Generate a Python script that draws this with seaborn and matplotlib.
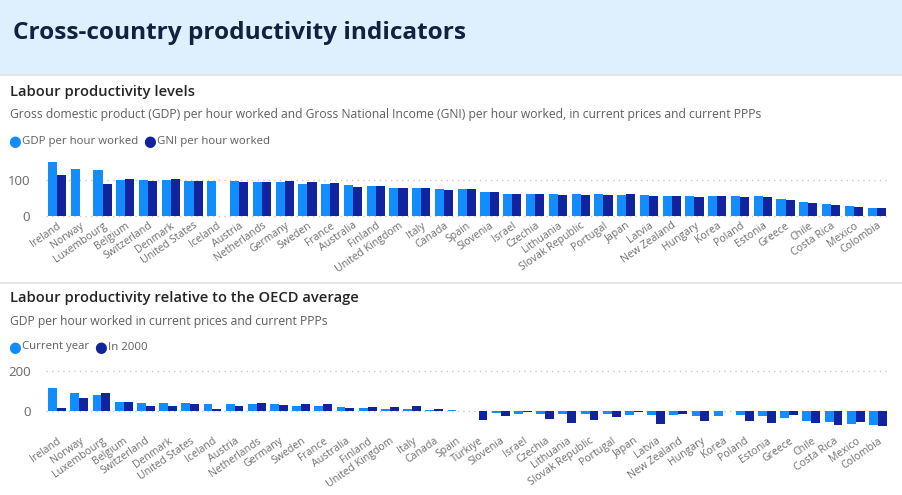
import numpy as np
import pandas as pd
import matplotlib
matplotlib.use("Agg")
import matplotlib.pyplot as plt
from matplotlib import font_manager
from matplotlib.lines import Line2D
from matplotlib.patches import Rectangle
import seaborn as sns

# %%
# data
countries_lvl = ["Ireland", "Norway", "Luxembourg", "Belgium", "Switzerland", "Denmark",
                 "United States", "Iceland", "Austria", "Netherlands", "Germany", "Sweden",
                 "France", "Australia", "Finland", "United Kingdom", "Italy", "Canada",
                 "Spain", "Slovenia", "Israel", "Czechia", "Lithuania", "Slovak Republic",
                 "Portugal", "Japan", "Latvia", "New Zealand", "Hungary", "Korea", "Poland",
                 "Estonia", "Greece", "Chile", "Costa Rica", "Mexico", "Colombia"]
gdp_hour = [150, 133, 128, 102, 100, 100, 99, 97, 97, 96, 95, 91, 90, 86, 84, 79, 79, 75,
            75, 67, 63, 63, 63, 62, 61, 58, 58, 57, 56, 56, 55, 55, 47, 38, 33, 27, 23]
gni_hour = [115, np.nan, 89, 103, 97, 103, 98, np.nan, 96, 95, 99, 96, 92, 82, 85, 79, 78, 74,
            75, 66, 62, 61, 60, 60, 59, 61, 55, 55, 54, 57, 53, 53, 45, 36, 31, 26, 22]

countries_rel = ["Ireland", "Norway", "Luxembourg", "Belgium", "Switzerland", "Denmark",
                 "United States", "Iceland", "Austria", "Netherlands", "Germany", "Sweden",
                 "France", "Australia", "Finland", "United Kingdom", "Italy", "Canada",
                 "Spain", "Türkiye", "Slovenia", "Israel", "Czechia", "Lithuania",
                 "Slovak Republic", "Portugal", "Japan", "Latvia", "New Zealand", "Hungary",
                 "Korea", "Poland", "Estonia", "Greece", "Chile", "Costa Rica", "Mexico",
                 "Colombia"]
rel_current = [113, 88, 80, 43, 40, 40, 38, 35, 35, 33, 33, 27, 25, 18, 17, 10, 10, 5,
               3, 0, -8, -15, -13, -13, -15, -15, -20, -22, -22, -25, -23, -22, -25, -37,
               -48, -55, -63, -72]
rel_2000 = [13, 65, 90, 45, 27, 25, 35, 8, 23, 40, 28, 35, 33, 13, 20, 22, 23, 10,
            -2, -45, -25, -3, -40, -58, -45, -28, -5, -65, -15, -50, 0, -50, -60, -22,
            -60, -70, -55, -77]

light = "#118DFF"
dark = "#12239E"

lvl = pd.DataFrame({"country": countries_lvl * 2,
                    "value": gdp_hour + gni_hour,
                    "series": ["GDP per hour worked"] * 37 + ["GNI per hour worked"] * 37})
rel = pd.DataFrame({"country": countries_rel * 2,
                    "value": rel_current + rel_2000,
                    "series": ["Current year"] * 38 + ["In 2000"] * 38})

# %%
# pick a family that really has a bold face installed
bold_family = "DejaVu Sans"
for fam in ["Open Sans", "Noto Sans", "Lato", "Roboto", "Inter", "Liberation Sans"]:
    weights = [f.weight for f in font_manager.fontManager.ttflist if f.name == fam]
    if any((w if isinstance(w, int) else font_manager.weight_dict.get(w, 400)) >= 600
           for w in weights):
        bold_family = fam
        break

sns.set_theme(style="white")
plt.rcParams["font.family"] = [bold_family, "DejaVu Sans"]

W, H = 903, 495
fig = plt.figure(figsize=(W / 100, H / 100), dpi=100)

def fy(px):
    return 1 - px / H

# header band
fig.add_artist(Rectangle((0, fy(74)), 1, 74 / H, transform=fig.transFigure,
                         color="#DEEFFD", zorder=0))
fig.text(13 / W, fy(33), "Cross-country productivity indicators", fontsize=17.6,
         fontweight="bold", color="#13203F", va="center")
for y in (75, 283):
    fig.add_artist(Line2D([0, 1], [fy(y), fy(y)], color="#E1E1E1", lw=1.2))

def panel(ax, df, order, hue_names, title, sub, top, ylim, ticks):
    sns.barplot(data=df, x="country", y="value", hue="series", order=order,
                hue_order=hue_names, palette=[light, dark], width=0.8,
                linewidth=0, ax=ax, legend=False, saturation=1, errorbar=None)
    ax.set_xlim(-0.5, len(order) - 0.5)
    ax.set_ylim(*ylim)
    ax.set_yticks(ticks)
    for t in ticks:
        ax.axhline(t, color="#C8C8C8", lw=1, ls=(0, (1, 3)), zorder=0, clip_on=False)
    ax.set_xlabel("")
    ax.set_ylabel("")
    sns.despine(ax=ax, left=True, bottom=True)
    ax.tick_params(axis="y", length=0, pad=11, labelsize=9.5, labelcolor="#666666")
    ax.tick_params(axis="x", length=0, pad=3, labelsize=7.6, labelcolor="#6E6E6E")
    plt.setp(ax.get_xticklabels(), rotation=35, ha="right", rotation_mode="anchor")
    # titles and legend
    fig.text(10 / W, fy(top), title, fontsize=10.6, fontweight="semibold",
             color="#252423", va="center")
    fig.text(10 / W, fy(top + 23), sub, fontsize=8.7, color="#605E5C", va="center")
    x = 15
    for name, c in zip(hue_names, [light, dark]):
        fig.text(x / W, fy(top + 49), "\u25CF", fontsize=10.5, color=c, va="center",
                 ha="center", family="DejaVu Sans")
        t = fig.text((x + 7.5) / W, fy(top + 49), name, fontsize=8.2, color="#605E5C",
                     va="center")
        fig.canvas.draw()
        bb = t.get_window_extent()
        x = bb.x1 + 11

ax1 = fig.add_axes([45.6 / W, fy(216), (888 - 45.6) / W, (216 - 158.9) / H])
panel(ax1, lvl, countries_lvl, ["GDP per hour worked", "GNI per hour worked"],
      "Labour productivity levels",
      "Gross domestic product (GDP) per hour worked and Gross National Income (GNI) per hour worked, in current prices and current PPPs",
      92, (0, 160), [0, 100])

ax2 = fig.add_axes([46 / W, fy(427), (889 - 46) / W, (427 - 371) / H])
panel(ax2, rel, countries_rel, ["Current year", "In 2000"],
      "Labour productivity relative to the OECD average",
      "GDP per hour worked in current prices and current PPPs",
      298, (-80, 200), [0, 200])
ax2.tick_params(axis="x", pad=6)

fig.savefig("out.png", dpi=100)
